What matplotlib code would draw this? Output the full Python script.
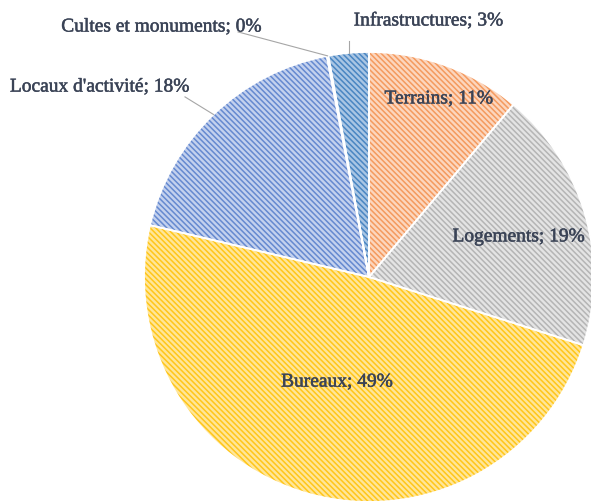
import matplotlib
matplotlib.use("Agg")
import matplotlib.pyplot as plt
import matplotlib.patheffects as pe
import numpy as np

# Parts of the total, clockwise from 12 o'clock
categories = ["Terrains", "Logements", "Bureaux", "Locaux d'activité",
              "Cultes et monuments", "Infrastructures"]
shares = [11.1, 18.8, 48.8, 18.3, 0.1, 2.9]

# light background tint + darker stripe colour for each slice
face_colors = ["#FCD6BE", "#E4E4E4", "#FFE699", "#C3D1EE", "#C0D6EE", "#A9C6E4"]
stripe_colors = ["#F49A5E", "#B5B5B5", "#FFC61A", "#6589D0", "#6AA0D6", "#4A86C2"]

# label anchors in pie-radius units (layout only)
label_pos = {
    "Terrains": (0.317, 0.795),
    "Logements": (0.674, 0.179),
    "Bureaux": (-0.138, -0.469),
    "Locaux d'activité": (-1.196, 0.848),
    "Cultes et monuments": (-0.920, 1.116),
    "Infrastructures": (0.272, 1.143),
}
# where leader lines start (next to the outside labels)
leader_start = {
    "Locaux d'activité": (-0.817, 0.804),
    "Cultes et monuments": (-0.580, 1.094),
    "Infrastructures": (-0.085, 1.054),
}

plt.rcParams['hatch.linewidth'] = 1.1
text_color = '#3A4356'

W, H = 591, 502
cx, cy, r = 369, 278, 225
fig = plt.figure(figsize=(W / 100, H / 100), dpi=100)
ax = fig.add_axes([0, 0, 1, 1])

# striped fill
wedges, _ = ax.pie(shares, startangle=90, counterclock=False, colors=face_colors,
                   wedgeprops=dict(linewidth=0))
for w, sc in zip(wedges, stripe_colors):
    w.set_hatch('\\' * 6)
    w.set_edgecolor(sc)
    w.set_linewidth(0)

# white separators on top
ax.pie(shares, startangle=90, counterclock=False, colors=['none'] * len(shares),
       wedgeprops=dict(linewidth=1.3, edgecolor='white'))

for w, name, v in zip(wedges, categories, shares):
    x, y = label_pos[name]
    x, y = (x * 224 + 368 - cx) / r, (y * 224 - 278 + cy) / r
    ax.text(x, y, f"{name}; {v:.0f}%", ha='center', va='center', fontsize=14,
            family='Liberation Serif', color=text_color,
            path_effects=[pe.withStroke(linewidth=0.35, foreground=text_color)])
    if name in leader_start:
        mid = np.deg2rad((w.theta1 + w.theta2) / 2)
        x0, y0 = leader_start[name]
        x0, y0 = (x0 * 224 + 368 - cx) / r, (y0 * 224 - 278 + cy) / r
        xe, ye = np.cos(mid), np.sin(mid)
        if name == "Infrastructures":
            x0 = xe
        ax.plot([x0, xe], [y0, ye], color='#A6A6A6', linewidth=0.8)

ax.set_xlim(-cx / r, (W - cx) / r)
ax.set_ylim(-(H - cy) / r, cy / r)
ax.set_aspect('auto')
ax.axis('off')

plt.savefig('out.png', dpi=100)
